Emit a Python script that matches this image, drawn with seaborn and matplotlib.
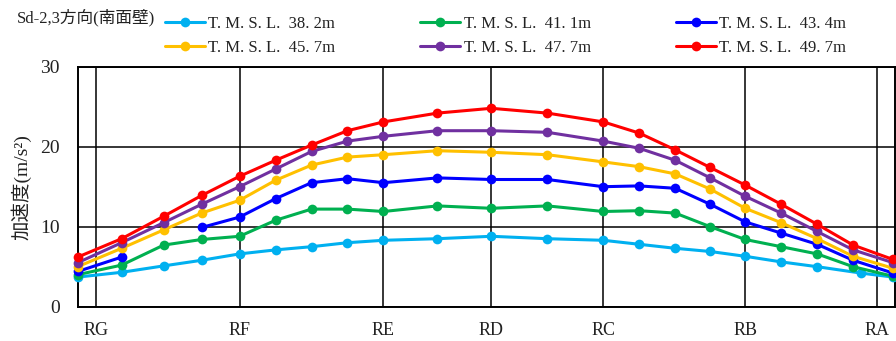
import matplotlib
matplotlib.use("Agg")
import matplotlib.pyplot as plt
from matplotlib.lines import Line2D
import numpy as np
import pandas as pd
import seaborn as sns

# Positions along the wall (arbitrary distance units)
x_pos = [0, 2.2, 4.3, 6.2, 8.1, 9.9, 11.7, 13.5, 15.3, 18.0, 20.7,
         23.5, 26.3, 28.1, 29.9, 31.65, 33.4, 35.2, 37.0, 38.8, 40.8]
x_pos_382 = [0, 2.2, 4.3, 6.2, 8.1, 9.9, 11.7, 13.5, 15.3, 18.0, 20.7,
             23.5, 26.3, 28.1, 29.9, 31.65, 33.4, 35.2, 37.0, 39.2, 40.8]
axis_names = ["RG", "RF", "RE", "RD", "RC", "RB", "RA"]
axis_pos = [0.9, 8.1, 15.3, 20.7, 26.3, 33.4, 40.0]

acc_382 = [3.7, 4.3, 5.1, 5.8, 6.6, 7.1, 7.5, 8.0, 8.3, 8.5, 8.8,
           8.5, 8.3, 7.8, 7.3, 6.9, 6.3, 5.6, 5.0, 4.2, 3.7]
acc_411 = [4.0, 5.2, 7.7, 8.4, 8.8, 10.8, 12.2, 12.2, 11.9, 12.6, 12.3,
           12.6, 11.9, 12.0, 11.7, 10.0, 8.4, 7.5, 6.6, 5.0, 3.8]
acc_434 = [4.4, 6.2, np.nan, 9.9, 11.2, 13.5, 15.5, 16.0, 15.5, 16.1, 15.9,
           15.9, 15.0, 15.1, 14.8, 12.8, 10.6, 9.2, 7.8, 5.8, 4.2]
acc_457 = [5.0, 7.3, 9.6, 11.7, 13.3, 15.8, 17.7, 18.7, 19.0, 19.5, 19.3,
           19.0, 18.1, 17.5, 16.6, 14.7, 12.3, 10.5, 8.5, 6.3, 4.8]
acc_477 = [5.5, 8.0, 10.5, 12.8, 15.0, 17.2, 19.4, 20.7, 21.3, 22.0, 22.0,
           21.8, 20.7, 19.8, 18.3, 16.1, 13.8, 11.7, 9.4, 7.1, 5.5]
acc_497 = [6.2, 8.5, 11.3, 13.9, 16.3, 18.3, 20.2, 22.0, 23.1, 24.2, 24.8,
           24.2, 23.1, 21.7, 19.6, 17.4, 15.2, 12.8, 10.3, 7.7, 5.9]

labels = ["T. M. S. L.  38. 2m", "T. M. S. L.  41. 1m", "T. M. S. L.  43. 4m",
          "T. M. S. L.  45. 7m", "T. M. S. L.  47. 7m", "T. M. S. L.  49. 7m"]
colors = ["#00B0F0", "#00B050", "#0000FF", "#FFC000", "#7030A0", "#FF0000"]


def main() -> None:
    series = [acc_382, acc_411, acc_434, acc_457, acc_477, acc_497]
    xs = [x_pos_382, x_pos, x_pos, x_pos, x_pos, x_pos]
    frames = []
    for lab, xv, yv in zip(labels, xs, series):
        d = pd.DataFrame({"x": xv, "acc": yv, "level": lab})
        # split at missing values so the line shows a gap
        d["seg"] = d["acc"].isna().cumsum()
        frames.append(d.dropna())
    df = pd.concat(frames, ignore_index=True)
    df["unit"] = df["level"] + "_" + df["seg"].astype(str)

    sns.set_theme(style="white")
    plt.rcParams["font.family"] = ["Liberation Serif", "Noto Sans CJK JP"]

    fig = plt.figure(figsize=(8.96, 3.41), dpi=100)
    ax = fig.add_axes([0.0867, 0.1006, 0.9123, 0.7038])

    sns.lineplot(data=df, x="x", y="acc", hue="level", units="unit",
                 estimator=None, sort=False, palette=dict(zip(labels, colors)),
                 hue_order=labels, marker="o", markersize=7, markeredgewidth=0,
                 linewidth=2.2, legend=False, clip_on=False, ax=ax, zorder=3)

    ax.set_xlim(0, 40.9)
    ax.set_ylim(0, 30)
    ax.set_yticks([0, 10, 20, 30])
    ax.set_xticks(axis_pos)
    ax.set_xticklabels(axis_names)
    ax.tick_params(axis="both", length=0, colors="#222222")
    ax.tick_params(axis="x", pad=11, labelsize=13)
    ax.tick_params(axis="y", pad=13, labelsize=14)
    ax.grid(True, color="black", linewidth=1.1)
    ax.set_axisbelow(True)
    for s in ax.spines.values():
        s.set_color("black")
        s.set_linewidth(1.4)
    ax.set_xlabel("")
    ax.set_ylabel("加速度(m/s²)", fontsize=14, labelpad=6, color="#222222")

    fig.text(0.019, 1 - 17.5 / 341, "Sd-2,3方向(南面壁)", fontsize=12,
             va="center", ha="left", color="#222222")

    handles = [Line2D([0], [0], color=c, marker="o", markersize=7,
                      markeredgewidth=0, linewidth=2.2) for c in colors]
    order = [0, 3, 1, 4, 2, 5]
    fig.legend([handles[i] for i in order], [labels[i] for i in order],
               loc="upper left", bbox_to_anchor=(165 / 896, 1 - 16 / 341),
               ncol=3, frameon=False, borderpad=0, borderaxespad=0,
               handlelength=2.4, handletextpad=0.2, columnspacing=5.1,
               labelspacing=0.45, prop={"family": "Liberation Serif", "size": 12},
               labelcolor="#222222")

    fig.savefig("out.png", dpi=100)
    plt.close(fig)


if __name__ == "__main__":
    main()
